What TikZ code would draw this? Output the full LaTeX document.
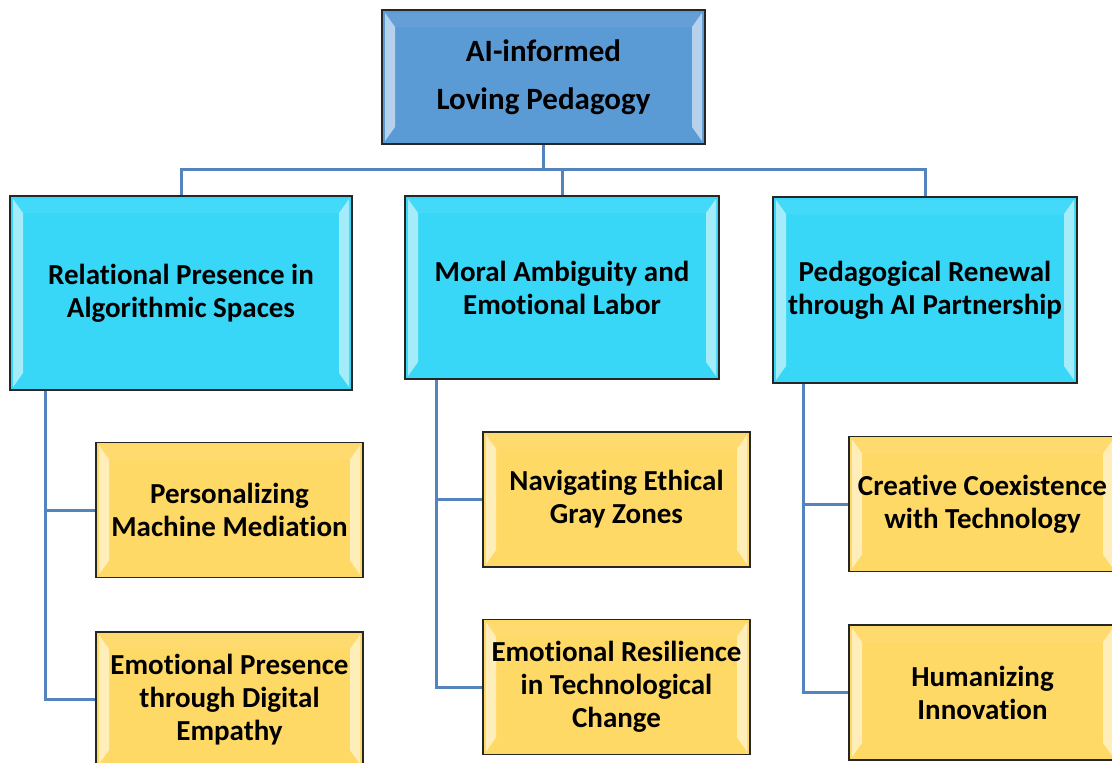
\documentclass[tikz,border=0pt]{standalone}
\usepackage{fontspec}
\setmainfont[Ligatures={NoCommon}, RawFeature={-liga;-calt;-clig}]{Carlito}
\usepackage{xcolor}
\usepackage{tikz}
\usetikzlibrary{positioning}

\definecolor{wurzelblau}{RGB}{91,155,213}
\definecolor{themacyan}{RGB}{56,215,248}
\definecolor{untergelb}{RGB}{255,217,102}
\definecolor{linienblau}{RGB}{84,132,190}

\begin{document}
\begin{tikzpicture}[x=1pt, y=1pt,
    bevel/.style={path picture={
        \fill[white, opacity=0.55] ([shift={(3,-3)}]path picture bounding box.north west) -- ([shift={(13,-17)}]path picture bounding box.north west)
            -- ([shift={(13,17)}]path picture bounding box.south west) -- ([shift={(3,3)}]path picture bounding box.south west) -- cycle;
        \fill[white, opacity=0.55] ([shift={(-3,-3)}]path picture bounding box.north east) -- ([shift={(-13,-17)}]path picture bounding box.north east)
            -- ([shift={(-13,17)}]path picture bounding box.south east) -- ([shift={(-3,3)}]path picture bounding box.south east) -- cycle;
        \fill[white, opacity=0.06] ([shift={(3,-3)}]path picture bounding box.north west) -- ([shift={(13,-17)}]path picture bounding box.north west)
            -- ([shift={(-13,-17)}]path picture bounding box.north east) -- ([shift={(-3,-3)}]path picture bounding box.north east) -- cycle;
    }},
    box/.style={rectangle, draw=black!85, line width=1.6pt, bevel, align=center, inner sep=0pt, font=\bfseries\fontsize{29}{33}\selectfont},
    wurzel/.style={box, fill=wurzelblau, minimum width=323, minimum height=134, font=\bfseries\fontsize{31}{48}\selectfont},
    thema/.style={box, fill=themacyan},
    unterthema/.style={box, fill=untergelb, minimum width=267, minimum height=135},
    link/.style={draw=linienblau, line width=3pt}]

    % Rahmen
    \useasboundingbox (0,0) rectangle (1112,-763);

    % Wurzel
    \node (Wurzel) at (543.5,-77) [wurzel] {AI-informed\\Loving Pedagogy};

    % Themen
    \node (Thema1) at (181,-293) [thema, minimum width=342, minimum height=194] {Relational Presence in\\Algorithmic Spaces};
    \node (Thema2) at (562,-287.5) [thema, minimum width=314, minimum height=183] {Moral Ambiguity and\\Emotional Labor};
    \node (Thema3) at (925,-290) [thema, minimum width=304, minimum height=186] {Pedagogical Renewal\\through AI Partnership};

    % Unterthemen
    \node (Unter1a) at (229.5,-510) [unterthema] {Personalizing\\Machine Mediation};
    \node (Unter1b) at (229.5,-699.5) [unterthema] {Emotional Presence\\through Digital\\Empathy};
    \node (Unter2a) at (616.5,-499.5) [unterthema] {Navigating Ethical\\Gray Zones};
    \node (Unter2b) at (616.5,-687) [unterthema] {Emotional Resilience\\in Technological\\Change};
    \node (Unter3a) at (982.5,-504) [unterthema] {Creative Coexistence\\with Technology};
    \node (Unter3b) at (982.5,-692.5) [unterthema] {Humanizing\\Innovation};

    % Verbindungen oben
    \coordinate (Schiene) at (543.5,-169);
    \draw[link] (Wurzel) -- (Schiene);
    \draw[link] (Thema1.north) |- (Schiene) -| (Thema3.north);
    \draw[link] (Thema2.north) -- (Thema2.north |- Schiene);

    % Verbindungen unten
    \draw[link] ([xshift=36]Thema1.south west) |- (Unter1a.west);
    \draw[link] ([xshift=36]Thema1.south west) |- (Unter1b.west);
    \draw[link] ([xshift=32]Thema2.south west) |- (Unter2a.west);
    \draw[link] ([xshift=32]Thema2.south west) |- (Unter2b.west);
    \draw[link] ([xshift=31]Thema3.south west) |- (Unter3a.west);
    \draw[link] ([xshift=31]Thema3.south west) |- (Unter3b.west);

\end{tikzpicture}
\end{document}
